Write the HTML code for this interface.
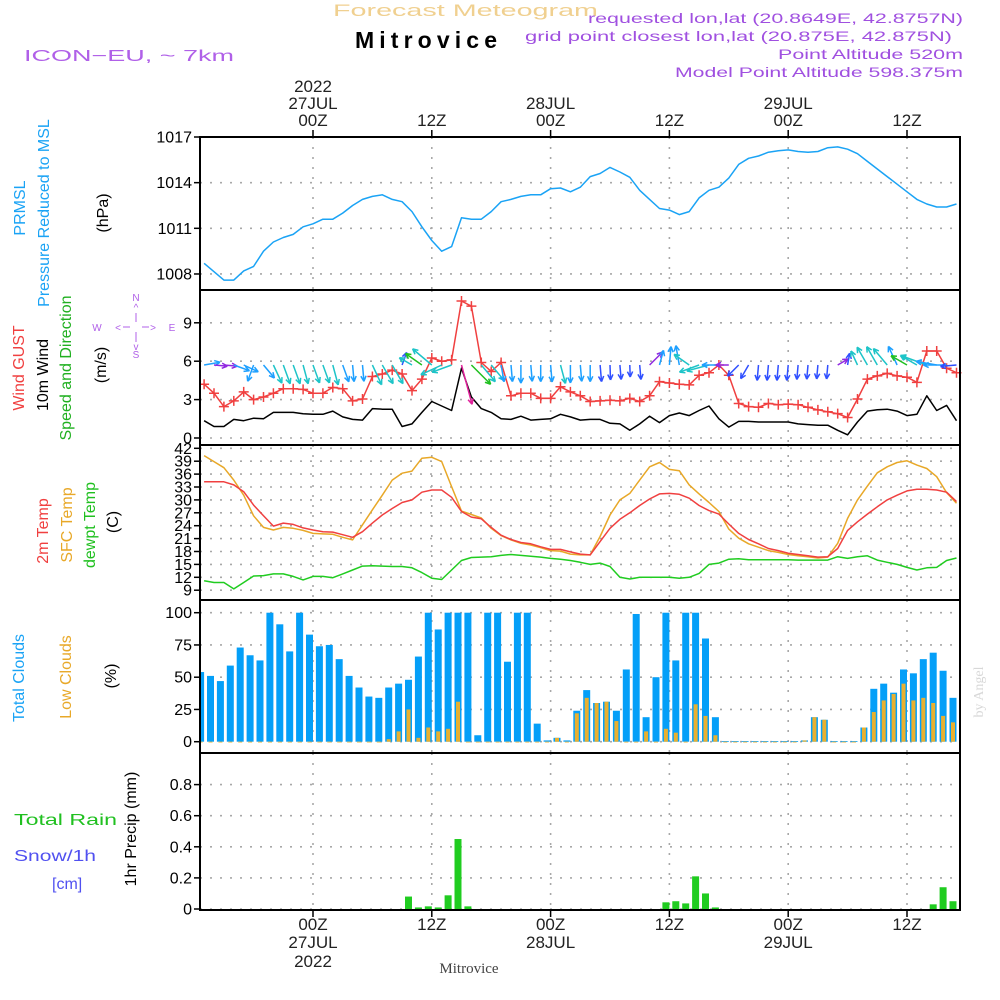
<!DOCTYPE html>
<html><head><meta charset="utf-8"><style>
html,body{margin:0;padding:0;background:#fff;}
svg{display:block;font-family:"Liberation Sans",sans-serif;}
</style></head><body>
<svg id="chart" width="1000" height="1000" viewBox="0 0 1000 1000" xmlns="http://www.w3.org/2000/svg">
<rect width="1000" height="1000" fill="#fff"/>
<g id="grid"></g>
<g id="marks"></g>
<g id="frames"></g>
<g id="labels"></g>
</svg>
<script>
// ---- data (hour offsets from 00Z 27JUL, -11 .. 65) ----
const hours = []; for (let h = -11; h <= 65; h++) hours.push(h);
const timeTickHours = [0, 12, 24, 36, 48, 60];
const timeTickTop = [["2022","27JUL","00Z"],["","","12Z"],["","28JUL","00Z"],["","","12Z"],["","29JUL","00Z"],["","","12Z"]];
const timeTickBottom = [["00Z","27JUL","2022"],["12Z","",""],["00Z","28JUL",""],["12Z","",""],["00Z","29JUL",""],["12Z","",""]];

const pressure = [1008.7,1008.15,1007.6,1007.6,1008.2,1008.5,1009.5,1010.1,1010.4,1010.6,1011.1,
1011.3,1011.6,1011.6,1012.0,1012.5,1012.9,1013.1,1013.2,1012.9,1012.75,1012.1,1011.1,1010.2,1009.5,1009.8,1011.7,1011.6,1011.6,1012.1,1012.75,1012.9,1013.1,1013.2,1013.2,1013.6,1013.65,1013.4,1013.7,1014.4,
1014.6,1015.0,1014.7,1014.35,1013.5,1012.9,1012.3,1012.2,1011.9,1012.1,1013.0,1013.5,1013.7,1014.3,1015.2,1015.6,1015.75,1016.0,1016.1,1016.15,1016.05,1016.0,1016.05,1016.3,1016.35,1016.2,1015.9,1015.4,1014.9,1014.4,1013.9,1013.4,1012.9,1012.6,1012.4,1012.4,1012.6];
const pressureTicks = [1017,1014,1011,1008];

const wind10 = [1.35,0.9,0.9,1.45,1.35,1.55,1.5,2.0,2.0,2.0,1.9,
1.85,1.85,2.1,1.65,1.45,1.4,2.3,2.25,2.25,0.9,1.1,2.0,2.85,2.5,2.15,5.45,3.2,2.3,2.0,1.5,1.45,1.7,1.4,1.45,1.5,1.85,1.65,1.4,1.45,
1.45,1.15,1.1,0.6,1.1,1.7,1.2,1.75,1.95,1.75,2.15,2.5,1.5,0.85,1.3,1.3,1.25,1.25,1.25,1.25,1.1,1.05,1.0,1.0,0.6,0.25,1.25,2.1,2.2,2.25,2.1,1.75,1.85,3.3,2.15,2.55,1.35];
const gust = [4.2,3.5,2.45,2.9,3.6,3.0,3.2,3.5,3.85,3.85,3.8,
3.5,3.5,3.95,3.85,2.9,3.05,4.8,5.0,5.3,5.0,3.7,4.6,6.25,6.0,6.1,10.7,10.3,5.9,5.2,5.9,3.3,3.5,3.5,3.1,3.1,4.0,3.6,3.3,2.85,
2.9,2.95,2.9,3.1,2.85,3.3,4.4,4.3,4.2,4.15,4.9,5.1,5.7,4.9,2.7,2.45,2.4,2.7,2.6,2.65,2.6,2.4,2.2,2.05,1.9,1.6,3.05,4.6,4.85,5.05,4.85,4.75,4.35,6.8,6.8,5.45,5.1];
const windDir = [80,95,95,110,115,200,140,155,160,160,165,
160,160,165,160,175,175,155,150,150,20,300,305,310,245,250,165,135,140,140,170,175,180,175,180,175,165,180,175,180,
175,178,175,178,175,45,15,5,350,305,250,255,270,270,225,210,185,185,185,185,185,185,185,185,60,10,335,330,330,320,335,300,300,290,280,270,265];
const windColorKey = "BPPBBBBCCCC"+"CCCBBBCCCDCGCCCMGCCBBBBBBCBBB"+"DDDDDPBBBCCCBPDDDDDDDDDDPDCCCCBGCCBBD";
const windTicks = [9,6,3,0];

const temp2m = [34.2,34.2,34.2,33.5,31.9,28.8,26.3,23.9,24.6,24.3,23.5,
23.0,22.6,22.5,21.9,21.3,22.6,24.6,26.5,28.0,29.4,30.0,31.8,32.3,32.3,30.6,27.3,26.0,25.6,23.6,21.8,20.8,20.1,19.8,19.1,18.5,18.5,17.9,17.4,
17.2,20.3,23.4,25.5,27.0,28.7,30.2,31.4,31.5,31.3,30.4,28.7,27.5,26.7,24.4,22.2,20.8,19.8,18.7,18.2,17.6,17.3,17.0,16.7,16.8,18.7,22.9,24.9,26.7,28.4,30.0,31.1,32.1,32.5,32.5,32.3,31.8,29.6];
const tempSfc = [40.3,38.9,37.5,34.6,31.1,26.3,23.6,23.0,23.6,23.4,22.9,
22.2,22.1,22.0,21.3,20.7,24.2,27.7,31.1,34.6,36.2,36.7,39.7,39.9,38.9,33.1,27.4,26.6,25.8,23.4,21.7,20.7,19.9,19.5,18.9,18.2,18.1,17.4,17.2,
17.2,21.5,26.5,30.0,31.5,34.6,37.7,38.7,37.1,36.8,33.5,31.4,29.4,27.3,23.2,21.1,19.8,19.0,18.2,17.8,17.3,17.0,16.8,16.5,16.7,19.9,25.7,30.0,33.2,36.3,37.7,38.7,39.1,38.1,37.3,35.4,31.7,29.2];
const dewpt = [11.2,10.8,10.8,9.3,10.8,12.3,12.4,12.8,12.8,12.2,11.4,
12.2,12.2,11.9,12.8,13.7,14.6,14.7,14.6,14.5,14.5,14.2,13.1,11.8,11.5,13.7,15.9,16.6,16.7,16.8,17.1,17.3,17.1,16.9,16.7,16.4,16.2,15.9,15.5,
15.0,15.3,14.5,12.0,11.6,12.0,12.0,12.0,12.0,11.8,12.0,12.9,15.0,15.3,16.2,16.3,16.1,16.1,16.1,16.1,16.1,16.0,16.0,16.0,16.0,16.8,16.4,16.8,17.0,16.0,15.5,15.0,14.3,13.7,14.2,14.3,15.9,16.5];
const tempTicks = [42,39,36,33,30,27,24,21,18,15,12,9];

const totalClouds = [54,51,47,59,73,67,63,100,91,70,100,
83,74,75,64,51,42,35,34,42,45,48,66,100,87,100,100,100,5,100,100,62,100,100,14,1,3,1,24,
40,30,31,24,56,99,19,50,100,63,100,100,80,19,0.5,0.5,0.5,0.5,0.5,0.5,0.5,0.5,1,19,17,0.5,0.5,0.5,11,41,45,38,56,53,64,69,55,34];
const lowClouds = [0,0,0,0,0,0,0,0,0,0,0,
0,0,0,0,0,0,0,0,2,8,25,3,11,8,10,31,0,0,0,0,0,0,0,0,0,3,0,22,
34,30,31,16,0,0,8,0,10,7,0,29,20,5,0,0,0,0,0,0,0,0,1,19,17,0,0,0,11,23,32,37,45,32,34,30,20,15];
const cloudTicks = [100,75,50,25,0];

const precip = [0,0,0,0,0,0,0,0,0,0,0,
0,0,0,0,0,0,0,0,0,0,0.08,0.01,0.017,0.01,0.088,0.45,0.017,0,0,0,0,0,0,0,0,0,0,0,0,
0,0,0,0,0,0,0,0.043,0.05,0.036,0.21,0.10,0.01,0,0,0,0,0,0,0,0,0,0,0,0,0,0,0,0,0,0,0,0,0,0.03,0.14,0.05];
const precipTicks = [0.8,0.6,0.4,0.2,0];
const precipTickLabels = ["0.8","0.6","0.4","0.2","0"];

// ---- axis functions ----
const X0 = 200, X1 = 960;
const xT = h => 313 + h * 9.9;
const yP = p => 137 + (1017 - p) * 15.22;
const yW = s => 438 - s * 12.8;
const yT = t => 448.3 + (42 - t) * 4.3;
const yC = c => 741.7 - c * 1.29;
const yR = r => 909 - r * 155.5;
const panels = [[137,290],[290,445],[445,600],[600,753],[753,910]];

const NS = "http://www.w3.org/2000/svg";
function mk(tag, attrs, parent, text) {
  const e = document.createElementNS(NS, tag);
  for (const k in attrs) e.setAttribute(k, attrs[k]);
  if (text !== undefined) e.textContent = text;
  parent.appendChild(e); return e;
}
const G = document.getElementById('grid'), M = document.getElementById('marks'),
      F = document.getElementById('frames'), L = document.getElementById('labels');
const dash = {stroke:"#a8a8a8","stroke-width":1.6,"stroke-dasharray":"2 8",fill:"none"};

panels.forEach(([a,b]) => timeTickHours.forEach(h => {
  const l = mk('line', Object.assign({x1:xT(h),x2:xT(h),y1:a,y2:b}, dash), G);
  
  
}));
function hgrid(ticks, yf, labels, fs) {
  ticks.forEach((v,i) => {
    const y = yf(v);
    const l = mk('line', Object.assign({x1:X0,x2:X1,y1:y,y2:y}, dash), G);
    
    
    const tk = mk('line',{x1:X0-6,x2:X0,y1:y,y2:y,stroke:"#000","stroke-width":1.5},F);
    
    
    const t = mk('text',{x:X0-8,y:y+5.5,"text-anchor":"end","font-size":fs||16,fill:"#000"},L,labels?labels[i]:String(v));
    
    
  });
}
hgrid(pressureTicks, yP);
hgrid(windTicks, yW);
hgrid(tempTicks, yT, null, 16);
hgrid(cloudTicks, yC);
hgrid(precipTicks, yR, precipTickLabels);

function polyline(arr, yf, color, name, w) {
  const pts = arr.map((v,i) => xT(hours[i]).toFixed(1)+","+yf(v).toFixed(1)).join(" ");
  const p = mk('polyline',{points:pts,fill:"none",stroke:color,"stroke-width":w||1.5,"stroke-linejoin":"round"},M);
  
  
}
polyline(pressure, yP, "#1aa3f5", "pressure-line");

polyline(wind10, yW, "#000", "wind-10m-line");
polyline(gust, yW, "#f04040", "wind-gust-line");
gust.forEach((v,i) => {
  const x = xT(hours[i]), y = yW(v);
  const g = mk('path',{d:`M${x-5},${y}H${x+5}M${x},${y-5}V${y+5}`,stroke:"#f04040","stroke-width":1.5},M);
  
  
});
const colMap = {B:"#1ea0ff",C:"#1ec4c8",D:"#3050ff",P:"#9028e0",G:"#20c020",M:"#e0209a"};
windDir.forEach((d,i) => {
  const x = xT(hours[i]), y = 365;
  const len = Math.max(12, 8 + 6 * wind10[i]);
  const r = d * Math.PI / 180;
  const ex = x + len * Math.sin(r), ey = y - len * Math.cos(r);
  const a1 = r + Math.PI - 0.45, a2 = r + Math.PI + 0.45;
  const dpath = `M${x},${y}L${ex},${ey}M${ex},${ey}L${ex+6*Math.sin(a1)},${ey-6*Math.cos(a1)}M${ex},${ey}L${ex+6*Math.sin(a2)},${ey-6*Math.cos(a2)}`;
  const a = mk('path',{d:dpath,stroke:colMap[windColorKey[i]],"stroke-width":1.5,fill:"none"},M);
  
  
});

polyline(tempSfc, yT, "#e8a828", "sfc-temp-line");
polyline(temp2m, yT, "#f04040", "temp-2m-line");
polyline(dewpt, yT, "#20cc20", "dewpoint-line");

totalClouds.forEach((v,i) => {
  const x = xT(hours[i]);
  const xl = Math.max(X0, x - 7);
  const b = mk('rect',{x:xl,y:yC(v),width:Math.max(0,x-xl),height:Math.max(0.8,yC(0)-yC(v)),fill:"#049ff8"},M);
  
  
});
lowClouds.forEach((v,i) => {
  const x = xT(hours[i]);
  const b = mk('rect',{x:x-5.5,y:yC(v),width:4,height:Math.max(0.8,yC(0)-yC(v)),fill:"#e8b030"},M);
  
  
});

precip.forEach((v,i) => {
  if (v <= 0) return;
  const x = xT(hours[i]);
  const b = mk('rect',{x:x-7,y:yR(v),width:7,height:yR(0)-yR(v),fill:"#20cc20"},M);
  
  
});

panels.forEach(([a,b]) => {
  const r = mk('rect',{x:X0,y:a,width:X1-X0,height:b-a,fill:"none",stroke:"#000","stroke-width":2},F);
  
  
});
timeTickHours.forEach((h,i) => {
  const x = xT(h);
  const t1 = mk('line',{x1:x,x2:x,y1:130,y2:137,stroke:"#000","stroke-width":1.5},F);
  
  
  const t2 = mk('line',{x1:x,x2:x,y1:910,y2:917,stroke:"#000","stroke-width":1.5},F);
  
  
  [92,109,126].forEach((yy,k) => { if (timeTickTop[i][k]) {
    const t = mk('text',{x:x,y:yy,"text-anchor":"middle","font-size":17,fill:"#222"},L,timeTickTop[i][k]);
    
    
  }});
  [930,948,967].forEach((yy,k) => { if (timeTickBottom[i][k]) {
    const t = mk('text',{x:x,y:yy,"text-anchor":"middle","font-size":17,fill:"#222"},L,timeTickBottom[i][k]);
    
    
  }});
});
</script>
<svg style="position:absolute;left:0;top:0" width="1000" height="1000" viewBox="0 0 1000 1000" xmlns="http://www.w3.org/2000/svg" font-family="Liberation Sans, sans-serif">
<text x="333" y="16" font-size="17" fill="#f0d090" textLength="265" lengthAdjust="spacingAndGlyphs">Forecast Meteogram</text>
<text x="355" y="48" font-size="23" font-weight="bold" fill="#000" textLength="142" lengthAdjust="spacing">Mitrovice</text>
<text x="24" y="61" font-size="16" fill="#b060e8" textLength="210" lengthAdjust="spacingAndGlyphs">ICON−EU, ~ 7km</text>
<text x="588" y="23" font-size="14" fill="#a050e0" textLength="375" lengthAdjust="spacingAndGlyphs">requested lon,lat (20.8649E, 42.8757N)</text>
<text x="525" y="41" font-size="14" fill="#a050e0" textLength="427" lengthAdjust="spacingAndGlyphs">grid point closest lon,lat (20.875E, 42.875N)</text>
<text x="778" y="59" font-size="14" fill="#a050e0" textLength="185" lengthAdjust="spacingAndGlyphs">Point Altitude 520m</text>
<text x="675" y="77" font-size="14" fill="#a050e0" textLength="288" lengthAdjust="spacingAndGlyphs">Model Point Altitude 598.375m</text>

<text transform="translate(25,208) rotate(-90)" font-size="16" fill="#1aa3f5" text-anchor="middle">PRMSL</text>
<text transform="translate(49,213) rotate(-90)" font-size="16" fill="#1aa3f5" text-anchor="middle">Pressure Reduced to MSL</text>
<text transform="translate(108,213) rotate(-90)" font-size="16" fill="#000" text-anchor="middle">(hPa)</text>

<text transform="translate(24,368) rotate(-90)" font-size="16" fill="#f04040" text-anchor="middle">Wind GUST</text>
<text transform="translate(48,375) rotate(-90)" font-size="16" fill="#000" text-anchor="middle">10m Wind</text>
<text transform="translate(71,368) rotate(-90)" font-size="16" fill="#20b020" text-anchor="middle">Speed and Direction</text>
<text transform="translate(106,365) rotate(-90)" font-size="16" fill="#000" text-anchor="middle">(m/s)</text>
<g fill="#b060e8" font-size="10" text-anchor="middle">
<text x="136" y="301">N</text><text x="136" y="311">^</text>
<text x="97" y="331">W</text><text x="172" y="331">E</text>
<text x="118" y="331">&lt;</text><text x="153" y="331">&gt;</text>
<text x="136" y="350">v</text><text x="136" y="358">S</text>
<path d="M136,313V322M136,332V342M123,327H130M142,327H149" stroke="#b060e8" stroke-width="1"/>
</g>

<text transform="translate(48,531) rotate(-90)" font-size="16" fill="#f04040" text-anchor="middle">2m Temp</text>
<text transform="translate(72,525) rotate(-90)" font-size="16" fill="#e8a828" text-anchor="middle">SFC Temp</text>
<text transform="translate(95,525) rotate(-90)" font-size="16" fill="#20c020" text-anchor="middle">dewpt Temp</text>
<text transform="translate(118,522) rotate(-90)" font-size="16" fill="#000" text-anchor="middle">(C)</text>

<text transform="translate(24,678) rotate(-90)" font-size="16" fill="#1aa3f5" text-anchor="middle">Total Clouds</text>
<text transform="translate(71,677) rotate(-90)" font-size="16" fill="#e8a828" text-anchor="middle">Low Clouds</text>
<text transform="translate(116,676) rotate(-90)" font-size="16" fill="#000" text-anchor="middle">(%)</text>

<text x="14" y="825" font-size="16" fill="#20c020" textLength="103" lengthAdjust="spacingAndGlyphs">Total   Rain</text>
<text x="14" y="861" font-size="16" fill="#5050f0" textLength="82" lengthAdjust="spacingAndGlyphs">Snow/1h</text>
<text x="52" y="889" font-size="16" fill="#5050f0">[cm]</text>
<text transform="translate(136,829) rotate(-90)" font-size="16" fill="#000" text-anchor="middle">1hr Precip (mm)</text>

<text x="469" y="973" font-size="15" fill="#444" text-anchor="middle" font-family="Liberation Serif, serif">Mitrovice</text>
<text transform="translate(983,692) rotate(-90)" font-size="14" fill="#d8d8d8" text-anchor="middle" font-family="Liberation Serif, serif">by Angel</text>
</svg>
</body></html>
